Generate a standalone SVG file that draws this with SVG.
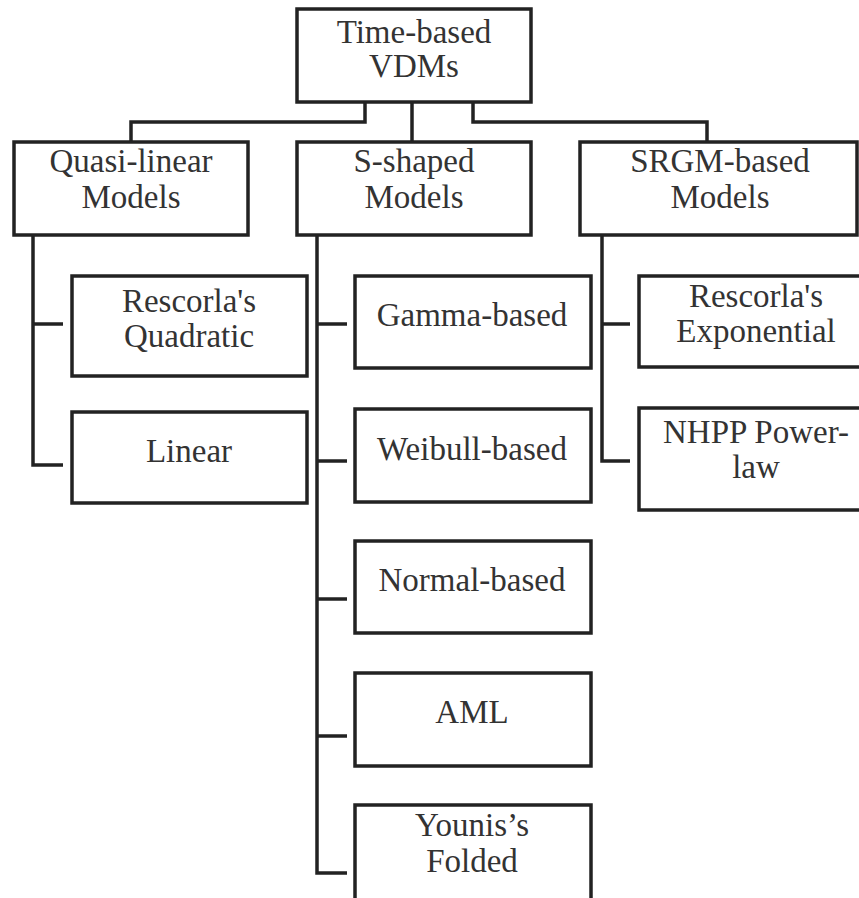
<svg xmlns="http://www.w3.org/2000/svg" width="859" height="898" viewBox="0 0 859 898">
<style>
.box{fill:#fff;stroke:#222;stroke-width:3.5}
.con{fill:none;stroke:#222;stroke-width:3.5}
text{font-family:"Liberation Serif","Times New Roman",serif;font-size:33px;fill:#333;text-anchor:middle}
</style>
<rect width="859" height="898" fill="#fff"/>
<g id="connectors" class="con">
<polyline points="365,102 365,122 131,122 131,142"/>
<line x1="412" y1="102" x2="412" y2="142"/>
<polyline points="473,102 473,122 707,122 707,142"/>
<polyline points="33,235 33,465 63,465"/>
<line x1="33" y1="324" x2="63" y2="324"/>
<polyline points="317,235 317,873 347,873"/>
<line x1="317" y1="324" x2="347" y2="324"/>
<line x1="317" y1="461" x2="347" y2="461"/>
<line x1="317" y1="599" x2="347" y2="599"/>
<line x1="317" y1="736" x2="347" y2="736"/>
<polyline points="602,235 602,461 630,461"/>
<line x1="602" y1="324" x2="630" y2="324"/>
</g>
<g id="root"><rect class="box" x="297" y="9" width="234" height="93"/><text x="414" y="43">Time-based</text><text x="414" y="77">VDMs</text></g>
<g id="quasi"><rect class="box" x="14" y="142" width="234" height="93"/><text x="131" y="172">Quasi-linear</text><text x="131" y="208">Models</text></g>
<g id="sshaped"><rect class="box" x="297" y="142" width="234" height="93"/><text x="414" y="172">S-shaped</text><text x="414" y="208">Models</text></g>
<g id="srgm"><rect class="box" x="580" y="142" width="277" height="93"/><text x="720" y="172">SRGM-based</text><text x="720" y="208">Models</text></g>
<g id="quadratic"><rect class="box" x="72" y="276" width="235" height="100"/><text x="189" y="312">Rescorla's</text><text x="189" y="347">Quadratic</text></g>
<g id="linear"><rect class="box" x="72" y="412" width="235" height="91"/><text x="189" y="462">Linear</text></g>
<g id="gamma"><rect class="box" x="355" y="276" width="236" height="92"/><text x="472" y="326">Gamma-based</text></g>
<g id="weibull"><rect class="box" x="355" y="409" width="236" height="93"/><text x="472" y="460">Weibull-based</text></g>
<g id="normal"><rect class="box" x="355" y="541" width="236" height="92"/><text x="472" y="591">Normal-based</text></g>
<g id="aml"><rect class="box" x="355" y="673" width="236" height="93"/><text x="472" y="723">AML</text></g>
<g id="younis"><rect class="box" x="355" y="805" width="236" height="100"/><text x="472" y="836">Younis’s</text><text x="472" y="872">Folded</text></g>
<g id="exponential"><rect class="box" x="639" y="276" width="230" height="91"/><text x="756" y="307">Rescorla's</text><text x="756" y="342">Exponential</text></g>
<g id="nhpp"><rect class="box" x="639" y="408" width="230" height="102"/><text x="756" y="443">NHPP Power-</text><text x="756" y="478">law</text></g>
</svg>
